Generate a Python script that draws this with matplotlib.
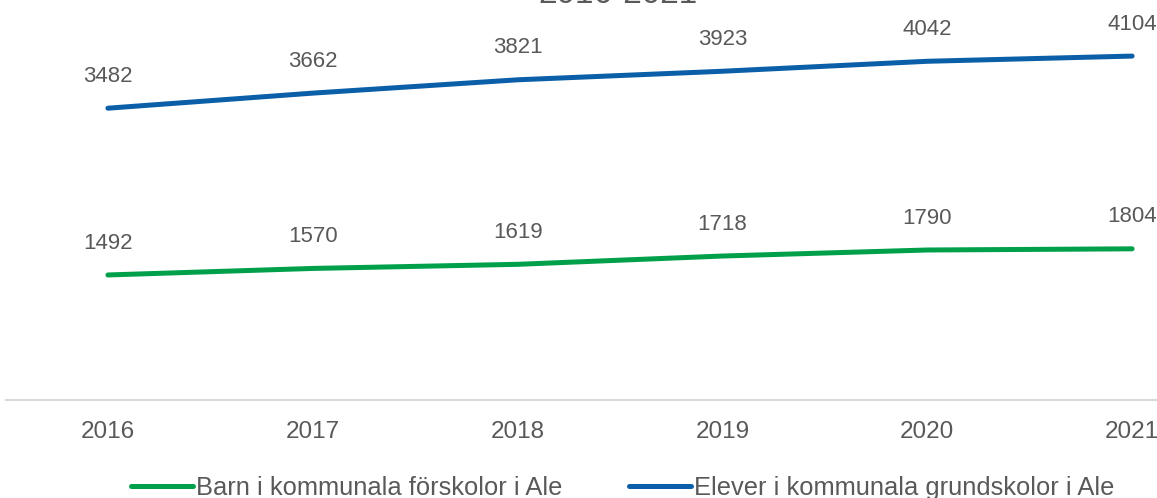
import matplotlib
matplotlib.use("Agg")
from matplotlib import pyplot as plt
import numpy as np

plt.rcParams['font.family'] = ['Liberation Sans', 'DejaVu Sans']

# data
years = ["2016", "2017", "2018", "2019", "2020", "2021"]
barn = [1492, 1570, 1619, 1718, 1790, 1804]
elever = [3482, 3662, 3821, 3923, 4042, 4104]
barn_label = "Barn i kommunala förskolor i Ale"
elever_label = "Elever i kommunala grundskolor i Ale"
title = "2016-2021"

green = '#00A04B'
blue = '#0B5EA8'
grey = '#595959'

W, H = 1157, 498
fig = plt.figure(figsize=(W / 100, H / 100), dpi=100)
# plot area is larger than the (cropped) picture
ax = fig.add_axes([5.5 / W, (H - 400) / H, 1229 / W, 419 / H])

x = np.arange(len(years))
ax.plot(x, barn, color=green, lw=3.6, solid_capstyle='round', label=barn_label)
ax.plot(x, elever, color=blue, lw=3.6, solid_capstyle='round', label=elever_label)

for xi, v in zip(x, barn):
    ax.annotate(str(v), (xi, v), xytext=(0, 23), textcoords='offset points',
                ha='center', va='center', fontsize=16, color=grey)
for xi, v in zip(x, elever):
    ax.annotate(str(v), (xi, v), xytext=(0, 23), textcoords='offset points',
                ha='center', va='center', fontsize=16, color=grey)

ax.set_xlim(-0.5, len(years) - 0.5)
ax.set_ylim(0, 5000)
ax.set_xticks(x)
ax.set_xticklabels(years, fontsize=17.5, color=grey)
ax.tick_params(axis='x', length=0, pad=15)
ax.set_yticks([])
for s in ['top', 'right', 'left']:
    ax.spines[s].set_visible(False)
ax.spines['bottom'].set_color('#D9D9D9')
ax.spines['bottom'].set_linewidth(1.5)

# title, mostly cut off at the top
fig.text(618 / W, 1 - 3 / H, title, ha='center', va='baseline',
         fontsize=24, color=grey)

fig.legend(loc='center', bbox_to_anchor=(623 / W, 1 - 488 / H), ncol=2,
           frameon=False, fontsize=18.4, handlelength=2.4, handletextpad=0.15,
           columnspacing=2.6, labelcolor=grey)

fig.savefig("out.png", dpi=100)
